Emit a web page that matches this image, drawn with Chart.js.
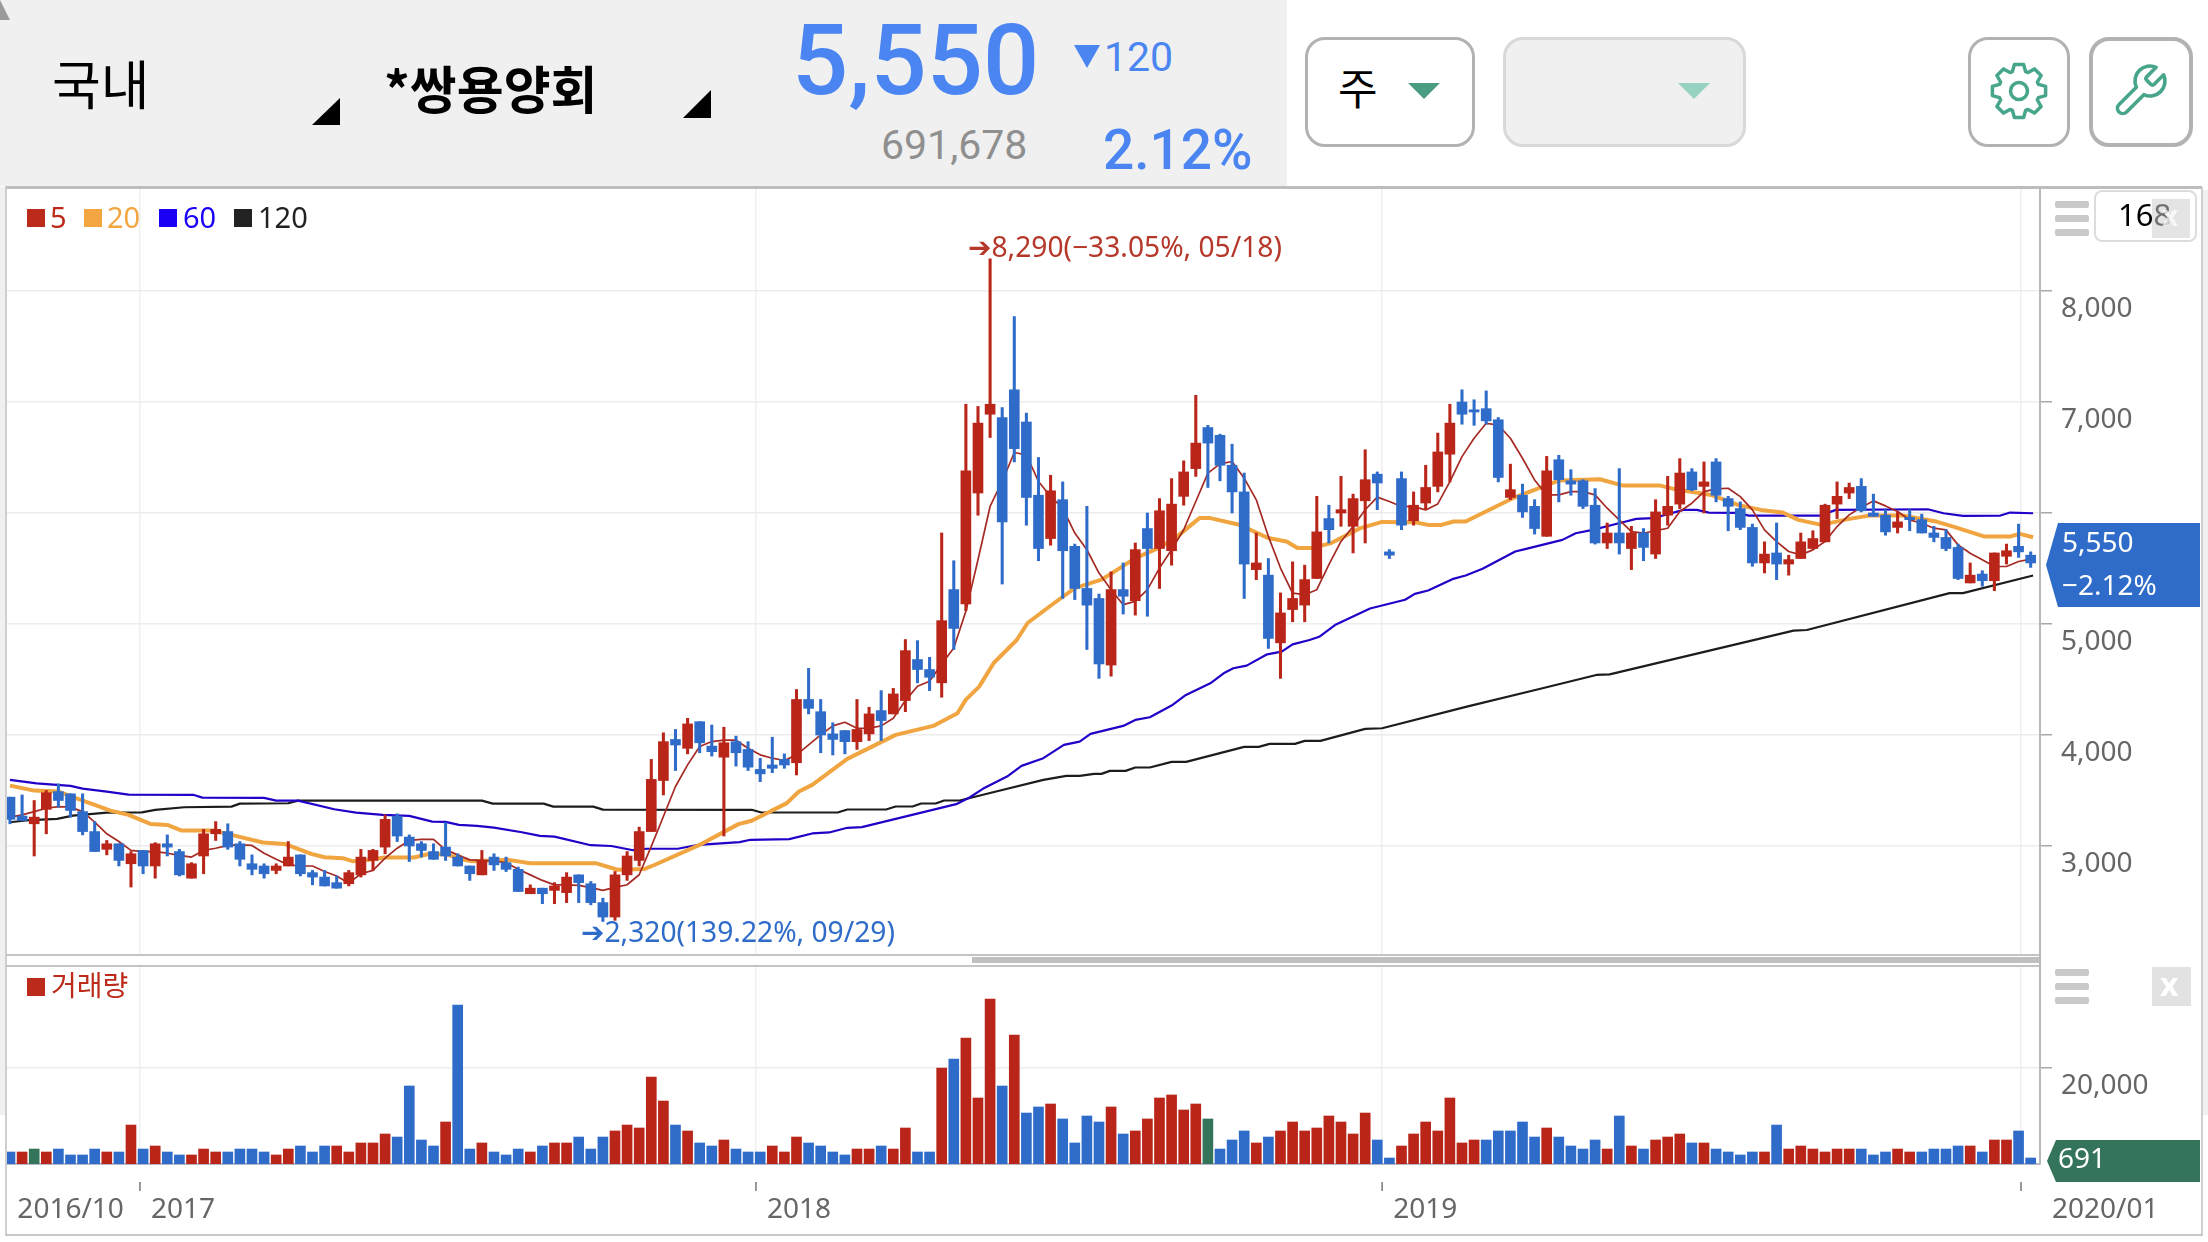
<!DOCTYPE html>
<html lang="ko"><head><meta charset="utf-8">
<script src="https://cdn.jsdelivr.net/npm/chart.js@4"></script>
<style>
html,body{margin:0;padding:0;background:#fff;width:2208px;height:1242px;overflow:hidden}
.a{position:absolute}
.t{position:absolute;white-space:nowrap;line-height:1;font-family:"Noto Sans","Noto Sans CJK KR",sans-serif}
.r{font-family:Roboto,sans-serif}
.k{font-family:"Noto Sans CJK KR",sans-serif}
canvas{position:absolute;display:block}
.btn{position:absolute;box-sizing:border-box;border:3px solid #b2b2b2;border-radius:20px;background:#fff}
</style></head><body>
<!-- header -->
<div class="a" style="left:0;top:0;width:1287px;height:186px;background:#f0f0f0"></div>
<div class="a" style="left:0;top:0;width:10px;height:20px;background:#9a9a9a;clip-path:polygon(0 0,100% 100%,0 100%,0 0)"></div>
<div class="t k" style="left:52px;top:56px;font-size:53px;color:#000">국내</div>
<div class="a" style="left:312px;top:98px;width:28px;height:27px;background:#000;clip-path:polygon(100% 0,100% 100%,0 100%)"></div>
<div class="t k" style="left:384px;top:62px;font-size:51px;font-weight:700;color:#000">*쌍용양회</div>
<div class="a" style="left:683px;top:90px;width:28px;height:28px;background:#000;clip-path:polygon(100% 0,100% 100%,0 100%)"></div>
<div class="t r" style="left:792px;top:11px;font-size:99px;font-weight:500;color:#4a85f2">5,550</div>
<div class="a" style="left:1074px;top:45px;width:26px;height:23px;background:#4a85f2;clip-path:polygon(0 0,100% 0,50% 100%)"></div>
<div class="t r" style="left:1104px;top:37px;font-size:41px;color:#4a85f2">120</div>
<div class="t r" style="left:881px;top:125px;font-size:41px;color:#8f8f8f">691,678</div>
<div class="t r" style="left:1103px;top:123px;font-size:55px;font-weight:500;color:#4a85f2">2.12%</div>
<!-- buttons -->
<div class="btn" style="left:1305px;top:37px;width:170px;height:110px"></div>
<div class="t k" style="left:1338px;top:65px;font-size:43px;color:#000">주</div>
<div class="a" style="left:1408px;top:83px;width:32px;height:16px;background:#4a9d83;clip-path:polygon(0 0,100% 0,50% 100%)"></div>
<div class="btn" style="left:1503px;top:37px;width:243px;height:110px;background:#f0f0f0;border-color:#d8d8d8"></div>
<div class="a" style="left:1678px;top:83px;width:32px;height:16px;background:#96d1c1;clip-path:polygon(0 0,100% 0,50% 100%)"></div>
<div class="btn" style="left:1968px;top:37px;width:102px;height:110px"></div>
<svg class="a" id="gear" style="left:1989px;top:61px" width="60" height="60" viewBox="0 0 60 60"><path id="gearPath" fill="none" stroke="#46a58a" stroke-width="3.5" stroke-linejoin="round"/><circle cx="30" cy="30" r="8.5" fill="none" stroke="#46a58a" stroke-width="3.5"/></svg>
<div class="btn" style="left:2089px;top:37px;width:104px;height:110px;border-width:4px"></div>
<svg class="a" style="left:2110px;top:61px" width="60" height="60" viewBox="0 0 24 24"><path fill="none" stroke="#46a58a" stroke-width="1.45" stroke-linejoin="round" d="M14.7 6.3a1 1 0 0 0 0 1.4l1.6 1.6a1 1 0 0 0 1.4 0l3.77-3.77a6 6 0 0 1-7.94 7.94l-6.91 6.91a2.12 2.12 0 0 1-3-3l6.91-6.91a6 6 0 0 1 7.94-7.94l-3.76 3.76z"/></svg>

<!-- charts -->
<canvas id="priceChart" width="2194" height="765" style="left:6px;top:189px"></canvas>
<canvas id="volumeChart" width="2194" height="269" style="left:6px;top:966px"></canvas>

<!-- frame -->
<div class="a" style="left:0;top:187px;width:5px;height:928px;background:#f0f0f0"></div>
<div class="a" style="left:2203px;top:190px;width:5px;height:925px;background:#f0f0f0"></div>
<div class="a" style="left:5px;top:186px;width:2197px;height:3px;background:#bdbdbd"></div>
<div class="a" style="left:5px;top:187px;width:2px;height:1049px;background:#cfcfcf"></div>
<div class="a" style="left:2201px;top:187px;width:2px;height:1049px;background:#cfcfcf"></div>
<div class="a" style="left:5px;top:1234px;width:2198px;height:2px;background:#c8c8c8"></div>
<div class="a" style="left:6px;top:954px;width:2034px;height:2px;background:#c4c4c4"></div>
<div class="a" style="left:6px;top:965px;width:2034px;height:2px;background:#c4c4c4"></div>
<div class="a" style="left:972px;top:957px;width:1068px;height:6px;background:#c0c0c0"></div>
<div class="a" style="left:2039px;top:954px;width:2px;height:13px;background:#b8b8b8"></div>

<!-- legend -->
<div class="a" style="left:27px;top:209px;width:18px;height:18px;background:#bb2a1a"></div>
<div class="t" style="left:50px;top:202px;font-size:29px;color:#bb2a1a">5</div>
<div class="a" style="left:84px;top:209px;width:18px;height:18px;background:#f2a541"></div>
<div class="t" style="left:107px;top:202px;font-size:29px;color:#f2a541">20</div>
<div class="a" style="left:159px;top:209px;width:18px;height:18px;background:#1a00f5"></div>
<div class="t" style="left:183px;top:202px;font-size:29px;color:#1a00f5">60</div>
<div class="a" style="left:234px;top:209px;width:18px;height:18px;background:#222"></div>
<div class="t" style="left:258px;top:202px;font-size:29px;color:#222">120</div>
<div class="a" style="left:27px;top:978px;width:18px;height:18px;background:#bb2a1a"></div>
<div class="t k" style="left:51px;top:970px;font-size:28px;color:#bb2a1a">거래량</div>

<!-- annotations -->
<div class="t" style="left:968px;top:232px;font-size:28.2px;color:#b5382a"><span style="font-family:'DejaVu Sans';font-weight:700;font-size:28px">➔</span>8,290(−33.05%, 05/18)</div>
<div class="t" style="left:581px;top:917px;font-size:28.2px;color:#2f6cc9"><span style="font-family:'DejaVu Sans';font-weight:700;font-size:28px">➔</span>2,320(139.22%, 09/29)</div>

<!-- right panel -->
<div class="a" style="left:2055px;top:201px;width:34px;height:7px;background:#c9c9c9;border-radius:2px"></div>
<div class="a" style="left:2055px;top:215px;width:34px;height:7px;background:#c9c9c9;border-radius:2px"></div>
<div class="a" style="left:2055px;top:229px;width:34px;height:7px;background:#c9c9c9;border-radius:2px"></div>
<div class="a" style="left:2094px;top:190px;width:103px;height:52px;box-sizing:border-box;background:#fff;border:2px solid #dcdcdc;border-radius:8px"></div>
<div class="t" style="left:2118px;top:199px;font-size:31px;color:#000">168</div>
<div class="a" style="left:2152px;top:199px;width:38px;height:39px;background:rgba(205,205,205,.55)"></div>
<div class="t" style="left:2162px;top:201px;font-size:28px;font-weight:700;color:rgba(255,255,255,.7)">x</div>
<div class="a" style="left:2055px;top:969px;width:34px;height:7px;background:#c9c9c9;border-radius:2px"></div>
<div class="a" style="left:2055px;top:983px;width:34px;height:7px;background:#c9c9c9;border-radius:2px"></div>
<div class="a" style="left:2055px;top:997px;width:34px;height:7px;background:#c9c9c9;border-radius:2px"></div>
<div class="a" style="left:2152px;top:967px;width:39px;height:39px;background:#e2e2e2"></div>
<div class="t" style="left:2160px;top:968px;font-size:32px;font-weight:700;color:#fff">x</div>

<!-- value tags -->
<div class="a" style="left:2046px;top:523px;width:154px;height:84px;background:#2f6cc9;clip-path:polygon(0 50%,12px 0,100% 0,100% 100%,12px 100%)"></div>
<div class="t" style="left:2062px;top:527px;font-size:28px;color:#fff">5,550</div>
<div class="t" style="left:2062px;top:570px;font-size:28px;color:#fff">−2.12%</div>
<div class="a" style="left:2047px;top:1140px;width:153px;height:42px;background:#33745a;clip-path:polygon(0 50%,9px 0,100% 0,100% 100%,9px 100%)"></div>
<div class="t" style="left:2058px;top:1143px;font-size:28px;color:#fff">691</div>

<script>
// ---------- data (weekly candles) ----------
const openPrice = [3440,3270,3200,3330,3490,3470,3310,3130,2970,3020,2840,2960,2820,3020,2950,2710,2910,3110,3130,3020,2840,2820,2780,2820,2920,2760,2720,2670,2660,2740,2870,2990,3270,3080,3020,2950,2990,2900,2820,2740,2900,2850,2790,2570,2620,2600,2580,2740,2660,2490,2360,2740,2870,3130,3590,3960,3880,4120,3900,3800,3940,3870,3690,3730,3780,3750,4320,4210,4010,4040,3940,4010,4220,4190,4310,4680,4590,4470,5310,5180,6180,6890,6860,7110,6820,6160,5770,6120,5700,5320,5230,4630,5310,5210,5860,5680,5660,6150,6400,6770,6700,6430,6190,5490,5440,4830,5130,5170,5410,5950,6000,5880,6110,6350,5650,6310,5930,6090,6240,6530,7000,6930,6940,6840,6140,6160,6060,5790,6480,6290,6290,6070,5730,5820,5680,5820,5630,5980,6080,6370,6240,6460,6130,6040,5870,5550,5640,5540,5590,5680,5740,6080,6180,6240,6000,5980,5870,5960,5940,5820,5780,5690,5370,5450,5390,5610,5700,5620];
const highPrice = [3440,3460,3410,3500,3560,3470,3470,3220,3050,3020,2950,2960,3030,3100,2970,2850,3150,3220,3200,3040,2920,2840,2840,3040,2920,2780,2780,2730,2780,2970,2970,3280,3290,3100,3040,3020,3210,2930,2820,2960,2930,2900,2810,2650,2620,2670,2760,2740,2680,2530,2770,2950,3170,3780,4020,4050,4150,4120,4090,4070,3990,3940,3790,3980,3830,4410,4600,4320,4110,4040,4320,4250,4400,4420,4860,4850,4700,5820,5570,6980,6960,8290,6950,7770,6900,6500,6340,6280,5720,6060,5270,5470,5550,5730,6000,6130,6310,6470,7060,6790,6710,6620,6360,5820,5590,5280,5560,5530,6150,6070,6330,6170,6570,6370,5670,6370,6190,6430,6720,6980,7110,7020,7100,6860,6440,6260,6120,6510,6520,6390,6300,6220,5910,6400,5880,5860,6120,6330,6490,6400,6460,6490,6150,6100,5900,5740,5910,5620,5820,5840,6080,6280,6270,6310,6170,6030,6010,6030,5990,5880,5850,5720,5550,5480,5640,5720,5900,5650];
const lowPrice = [3200,3230,2910,3110,3350,3260,3100,2950,2920,2820,2630,2750,2710,2910,2730,2710,2750,3050,2970,2820,2740,2710,2750,2820,2730,2650,2640,2620,2640,2720,2780,2930,3040,2860,2900,2880,2870,2820,2690,2740,2780,2770,2590,2570,2480,2480,2490,2490,2470,2320,2330,2690,2820,3130,3460,3680,3830,3840,3810,3090,3720,3680,3580,3660,3700,3640,4190,3840,3820,3830,3870,3950,3950,4190,4210,4470,4400,4340,4770,5120,5980,6680,5360,6460,5890,5570,5710,5230,5220,4770,4510,4530,5090,5080,5070,5320,5530,6070,6330,6230,6290,6000,5230,5400,4780,4510,5020,5020,5410,5730,5880,5640,5730,6030,5590,5850,5890,6030,6190,6280,6800,6790,6800,6280,6120,5960,5810,5790,6100,6160,6040,5720,5680,5630,5490,5570,5590,5890,6040,6200,6000,6100,5840,5850,5520,5460,5400,5440,5590,5680,5740,5950,6130,6010,5970,5800,5820,5840,5820,5740,5660,5400,5370,5340,5300,5540,5600,5510];
const closePrice = [3240,3230,3260,3480,3410,3320,3130,2950,3020,2870,2930,2820,3020,2990,2740,2840,3110,3150,2990,2880,2790,2750,2820,2900,2750,2720,2640,2620,2760,2900,2960,3240,3090,3000,2960,2880,2910,2820,2750,2870,2830,2790,2590,2620,2570,2640,2720,2670,2490,2360,2740,2910,3130,3600,3940,3910,4100,3930,3850,3930,3840,3710,3650,3700,3730,4320,4240,4000,3960,3940,4050,4190,4130,4370,4760,4590,4520,5030,4960,6380,6810,6980,5920,6580,6140,5680,6200,5660,5320,5170,4640,5310,5250,5670,5680,6020,6080,6370,6630,6630,6430,6190,5540,5550,4870,5100,5230,5400,5830,5850,6030,6130,6300,6270,5620,5890,6070,6230,6550,6810,6890,6910,6830,6320,6210,6010,5860,6380,6300,6260,6060,5730,5820,5730,5820,5690,6010,6060,6360,6210,6280,6160,6060,5870,5550,5630,5540,5580,5740,5770,6070,6150,6230,6020,5970,5830,5920,5940,5820,5780,5680,5410,5440,5390,5640,5660,5650,5550];
const ma5 = [3260,3280,3310,3340,3355,3350,3310,3215,3110,3040,2960,2950,2950,2935,2915,2900,2960,2980,3005,3010,3005,2935,2880,2830,2820,2820,2770,2730,2665,2750,2780,2890,2980,3050,3060,3060,2965,2920,2875,2870,2865,2850,2790,2740,2690,2650,2650,2645,2625,2600,2627,2651,2741,2996,3266,3536,3731,3896,3941,3953,3953,3881,3821,3791,3770,3821,3911,4001,4082,4115,4061,4061,4082,4151,4310,4439,4484,4640,4784,5114,5579,6059,6284,6545,6524,6284,6149,6044,5819,5669,5459,5309,5174,5204,5309,5504,5669,5849,6104,6359,6443,6464,6314,6119,5789,5504,5279,5264,5309,5534,5744,5879,6029,6143,6104,6059,6058,6028,6082,6283,6508,6673,6808,6793,6673,6493,6298,6163,6163,6193,6193,6163,6043,5938,5833,5818,5842,5863,6013,6088,6193,6217,6223,6148,6028,5848,5743,5653,5623,5668,5743,5878,5983,6052,6109,6064,6013,5938,5908,5863,5848,5713,5638,5578,5518,5518,5563,5584];
const ma20At = [0,2,4,5.5,7,8.3,9.8,11.6,13,14.2,16.8,18.3,20.9,22.7,24.9,26,27.5,28.3,29.7,30.9,33.4,34.5,36,37.5,38.2,41.2,43,48.4,50.2,52.4,53.3,56.9,60.2,61.3,64.2,65.2,66.3,69.2,73.2,76.3,78.3,79,80.1,81.3,83.2,84.1,86.3,88,90.2,91.3,93,94.9,96.3,98.3,99.2,101.6,104,105.5,106.4,107.5,109.2,111.6,113.4,116.1,117.2,118.3,119.3,120.3,124.2,126.7,128,131.4,133.3,136.4,137.5,140.6,142.8,144.7,146.5,147.8,149.7,152,153.7,156.4,159.2,160.6,163.2,165.3,166.1,167.2];
const ma20 = [3544,3499,3490,3430,3370,3319,3280,3199,3190,3139,3139,3100,3031,3019,2929,2899,2890,2863,2875,2896,2896,2926,2926,2875,2863,2875,2845,2845,2786,2792,2831,3005,3197,3227,3386,3491,3551,3785,4001,4082,4196,4319,4436,4649,4856,5009,5189,5324,5399,5474,5594,5684,5774,5954,5954,5894,5774,5744,5684,5684,5729,5864,5920,5917,5893,5893,5923,5923,6133,6238,6292,6304,6247,6247,6217,6163,6073,6028,6004,5938,5893,5947,5977,5977,5923,5878,5788,5788,5812,5782];
const ma60At = [0,2.2,5,6,8,9.8,15.2,15.9,21,22,23.8,26.8,28.6,30.8,33,34.9,36,37.1,38.6,40,42.3,43.8,45,48,49.7,51.5,52.6,55.2,56.9,60.3,61.2,64.4,66.3,67.7,69.2,70.4,78.2,79.3,80.4,82.4,83.6,85.4,87.1,88.4,89.3,92,93,94.2,96,97.1,99.2,100.3,101.1,102.2,103.9,105.1,106,107.4,108.2,109.5,112.4,115.3,116.1,117.2,119.2,120.3,121.7,124.4,125.3,128.3,129.4,130.8,133.3,134.4,135.8,138.3,139.4,140.4,142.8,143.7,149.6,150.9,158.5,159.8,161.4,164.5,165.3,167.2];
const ma60 = [3595,3565,3541,3517,3490,3463,3460,3436,3433,3409,3409,3331,3301,3280,3271,3220,3217,3190,3181,3166,3124,3091,3085,3007,3000,2962,2975,2975,3011,3035,3056,3062,3113,3122,3164,3170,3377,3437,3515,3626,3722,3791,3911,3941,4010,4082,4136,4160,4265,4355,4466,4556,4601,4625,4727,4751,4817,4856,4885,4990,5140,5218,5272,5302,5404,5437,5497,5653,5677,5758,5818,5848,5917,5947,5953,6028,6028,6004,6001,5977,5977,6028,6034,5998,5974,5977,6004,5998];
const ma120At = [0,1.3,3.9,5.2,8,10.9,12,14.4,18.3,19,23,23.8,39,39.9,44.1,44.9,48.2,49,61.3,62.1,68.4,69.2,72.4,73.2,74.6,75.3,76.5,77.2,78.5,81.5,85.4,87.3,88.4,89.6,90.2,90.9,92.2,93,94.2,96,97.2,102,103.2,104.1,106.2,107,108.3,112,113.4,120.4,126.4,131.1,132.2,147.4,148.5,160.3,161.4,167.2];
const ma120 = [3214,3230,3244,3274,3300,3303,3325,3349,3355,3382,3385,3409,3409,3382,3382,3355,3355,3328,3326,3302,3302,3329,3329,3356,3356,3383,3383,3410,3410,3491,3596,3632,3632,3650,3650,3677,3677,3707,3707,3758,3758,3893,3893,3920,3920,3947,3947,4055,4061,4256,4414,4541,4546,4940,4946,5278,5278,5437];
const volume = [2500,2500,3120,2500,3120,1880,1880,3120,2500,2500,8120,3120,3750,2500,1880,1880,3120,2500,2500,3120,3120,2500,1880,3120,3750,2500,3750,3750,2500,4380,4380,6250,5620,16250,5000,3750,8750,33120,3120,4380,2500,1880,3120,2500,3750,4380,4380,5620,3120,5620,6880,8120,7500,18120,13120,8120,6880,4380,3750,5000,3120,2500,2500,3750,2500,5620,4380,3750,2500,1880,3120,3120,3750,3120,7500,2500,2500,20000,21880,26250,13750,34380,16250,26880,10620,11880,12500,9380,4380,10000,8750,11880,6250,6880,9380,13750,14380,11250,12500,9380,3120,5000,6880,4380,5620,6880,8750,6880,7500,10000,8750,6250,10620,5000,1250,3750,6250,8750,6880,13750,4380,5000,5000,6880,6880,8750,5620,7500,5620,3750,3120,5000,3120,10000,3750,3120,5000,5620,6250,4380,4380,3120,2500,1880,2500,2500,8120,3120,3750,3120,2500,3120,3120,3120,1880,2500,3120,2500,2500,3120,3120,3750,3750,2500,5000,5000,6880,1250];
const volumeDir = "brgrbbbbrbrbrbbrrrbbbbrrbbbrrrrrbbbbrbbrbbbrbrrbbbrrrrrbrbbrbbbrrrbbbbrrbrrbbrbrrrbrbbrbbbbrbrrrrrrgbbbrbrrrrrrrrbbrrrrrrrbbbbbrbbbbrbrbrrrbrbbbbrbrrrrrrbbbrrbbbbrbrrbb";
const priceTicks = [3000,4000,5000,6000,7000,8000];
const priceTickLabels = ['3,000','4,000','5,000','','7,000','8,000'];
const volumeTicks = [20000];
const volumeTickLabels = ['20,000'];
const timeTicks = [-0.3,10.74,61.65,113.4,166.2,167.85];
const timeTickLabels = ['2016/10','2017','2018','2019','','2020/01'];
const gridTimes = [10.74,61.65,113.4,166.2];

// ---------- style ----------
const RED='#b92619', BLUE='#2f6cc9', GREEN='#33745a';
const FONT={family:'"Noto Sans",sans-serif',size:28};
const XMIN=-0.33, XMAX=167.77;
const candleColor=openPrice.map((o,i)=>closePrice[i]>=o?RED:BLUE);
const idx=openPrice.map((_,i)=>i);
const pts=(xs,ys)=>xs.map((x,i)=>({x,y:ys[i]}));
const lineDS=(label,data,color,width,order)=>({type:'line',label,data,borderColor:color,borderWidth:width,pointRadius:0,tension:0,order,borderJoinStyle:'round',fill:false});
Chart.defaults.font.family=FONT.family;

function xScale(extra){return Object.assign({
  type:'linear',min:XMIN,max:XMAX,offset:false,
  afterBuildTicks:s=>{s.ticks=timeTicks.map(v=>({value:v}));},
  grid:{offset:false,color:c=>gridTimes.includes(c.tick&&c.tick.value)?'#efefef':'rgba(0,0,0,0)',lineWidth:1.5,drawTicks:false},
},extra);}
function yScale(min,max,vals,labels){return {
  position:'right',min,max,
  afterBuildTicks:s=>{s.ticks=vals.map(v=>({value:v}));},
  afterFit:s=>{s.width=160;s.paddingTop=0;s.paddingBottom=0;},
  border:{color:'#b8b8b8',width:2},
  grid:{color:'#ececec',lineWidth:1.5,tickLength:12,tickColor:'#a8a8a8'},
  ticks:{autoSkip:false,padding:9,labelOffset:18,color:'#666',font:FONT,mirror:false,
    callback:(v)=>{const k=vals.indexOf(v);return k<0?'':labels[k];}},
};}

new Chart(document.getElementById('priceChart'),{
  data:{datasets:[
    lineDS('120',pts(ma120At,ma120),'#1c1c1c',2.2,13),
    lineDS('60',pts(ma60At,ma60),'#2200c8',2.2,12),
    lineDS('20',pts(ma20At,ma20),'#f0a540',4,11),
    lineDS('5',pts(idx,ma5),'#a52a24',1.7,10),
    {type:'bar',label:'wick',grouped:false,order:3,barPercentage:1,categoryPercentage:1,maxBarThickness:2.4,borderWidth:0,
      backgroundColor:candleColor,data:idx.map(i=>({x:i,y:[lowPrice[i],highPrice[i]]}))},
    {type:'bar',label:'body',grouped:false,order:2,barPercentage:1,categoryPercentage:1,maxBarThickness:10,borderWidth:0,
      backgroundColor:candleColor,data:idx.map(i=>({x:i,y:[openPrice[i],closePrice[i]]}))},
  ]},
  options:{responsive:false,animation:false,devicePixelRatio:1,
    layout:{padding:0},
    plugins:{legend:{display:false},tooltip:{enabled:false}},
    scales:{
      x:xScale({ticks:{display:false},border:{display:false},afterFit:s=>{s.height=0;s.paddingLeft=0;s.paddingRight=0;}}),
      y:yScale(2027,8919,priceTicks,priceTickLabels),
    }}
});

const tickDash={id:'tickDash',afterDraw(chart){
  const {ctx,scales:{x}}=chart;ctx.save();ctx.strokeStyle='#777';ctx.lineWidth=1.5;
  gridTimes.forEach(v=>{const p=x.getPixelForValue(v);ctx.beginPath();ctx.moveTo(p,chart.chartArea.bottom+18);ctx.lineTo(p,chart.chartArea.bottom+27);ctx.stroke();});
  ctx.restore();
}};
new Chart(document.getElementById('volumeChart'),{
  data:{datasets:[
    {type:'bar',label:'거래량',grouped:false,barPercentage:1,categoryPercentage:1,maxBarThickness:10,borderWidth:0,
      backgroundColor:idx.map(i=>({b:BLUE,r:RED,g:GREEN})[volumeDir[i]]),
      data:idx.map(i=>({x:i,y:volume[i]}))},
  ]},
  plugins:[tickDash],
  options:{responsive:false,animation:false,devicePixelRatio:1,
    layout:{padding:0},
    plugins:{legend:{display:false},tooltip:{enabled:false}},
    scales:{
      x:xScale({border:{color:'#b4bac8',width:2},
        afterFit:s=>{s.height=71;s.paddingLeft=0;s.paddingRight=0;},
        ticks:{autoSkip:false,maxRotation:0,minRotation:0,align:'start',labelOffset:11,padding:29,color:'#666',font:FONT,
          callback:v=>{const k=timeTicks.indexOf(v);return k<0?'':timeTickLabels[k];}}}),
      y:yScale(0,41250,volumeTicks,volumeTickLabels),
    }}
});

// gear outline (decorative icon)
(function(){let d='';const n=8,c=30,R=27,r=20.5,w=Math.PI*2/n;
  for(let k=0;k<n;k++){const a=k*w-Math.PI/2;
    const seq=[[r,a-w*.42],[R,a-w*.22],[R,a+w*.22],[r,a+w*.42]];
    seq.forEach((s,j)=>{d+=((k===0&&j===0)?'M':'L')+(c+s[0]*Math.cos(s[1])).toFixed(1)+' '+(c+s[0]*Math.sin(s[1])).toFixed(1)+' ';});}
  document.getElementById('gearPath').setAttribute('d',d+'Z');})();
</script>
</body></html>
